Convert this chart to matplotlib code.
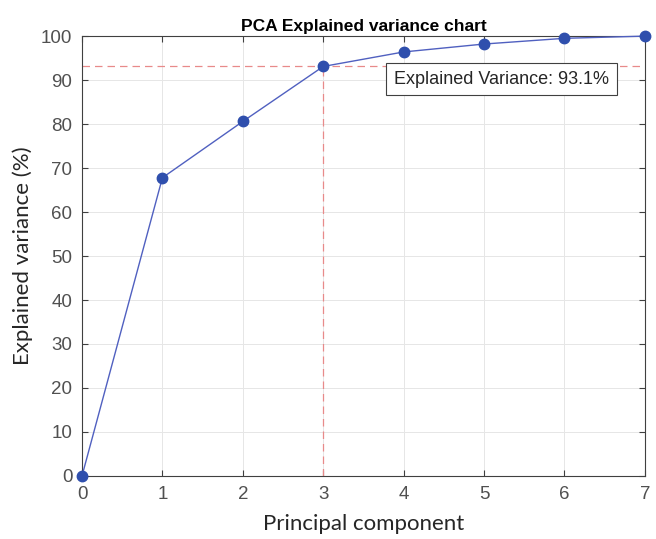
import numpy as np
import matplotlib
matplotlib.use('Agg')
from matplotlib import pyplot as plt

components = [0, 1, 2, 3, 4, 5, 6, 7]
explained = [0, 67.8, 80.6, 93.1, 96.4, 98.2, 99.5, 100]
threshold = 93.1
n_selected = 3

plt.rcParams['font.family'] = ['Liberation Sans', 'DejaVu Sans']

fig = plt.figure(figsize=(6.56, 5.39), dpi=100)
ax = fig.add_axes([0.125, 0.117, 0.858, 0.816])

ax.plot(components, explained, '-', color='#5060c0', linewidth=1.0, zorder=3, clip_on=False)
ax.plot(components, explained, 'o', color='#2f4fad', markersize=7.5, zorder=4, clip_on=False)

ax.axhline(threshold, color='#e88a8a', linestyle=(0, (6, 4)), linewidth=0.9, zorder=2)
ax.plot([n_selected, n_selected], [0, threshold], color='#e88a8a',
        linestyle=(0, (6, 4)), linewidth=0.9, zorder=2)

ax.text(3.88, 90.2, 'Explained Variance: %.1f%%' % threshold, fontsize=13,
        color='#262626', va='center', ha='left',
        bbox=dict(boxstyle='square,pad=0.42', facecolor='white', edgecolor='#404040', linewidth=0.8))

ax.set_xlim(0, 7)
ax.set_ylim(0, 100)
ax.set_xticks(range(0, 8))
ax.set_yticks(range(0, 101, 10))
ax.grid(True, color='#e6e6e6', linewidth=0.7)
ax.set_axisbelow(True)
ax.tick_params(direction='in', length=4, colors='#404040', labelsize=13.5,
               top=True, right=True)
ax.tick_params(axis='x', pad=7)
ax.tick_params(axis='y', pad=7, labelcolor='#505050')
ax.tick_params(axis='x', labelcolor='#505050')
for s in ax.spines.values():
    s.set_color('#404040')
    s.set_linewidth(0.8)

ax.set_title('PCA Explained variance chart', fontsize=12.5, fontweight='bold', pad=4)
ax.set_xlabel('Principal component', fontsize=16, color='#262626', labelpad=8, family='Lato')
ax.set_ylabel('Explained variance (%)', fontsize=16, color='#262626', labelpad=6, family='Lato')

plt.savefig('out.png', dpi=100)
